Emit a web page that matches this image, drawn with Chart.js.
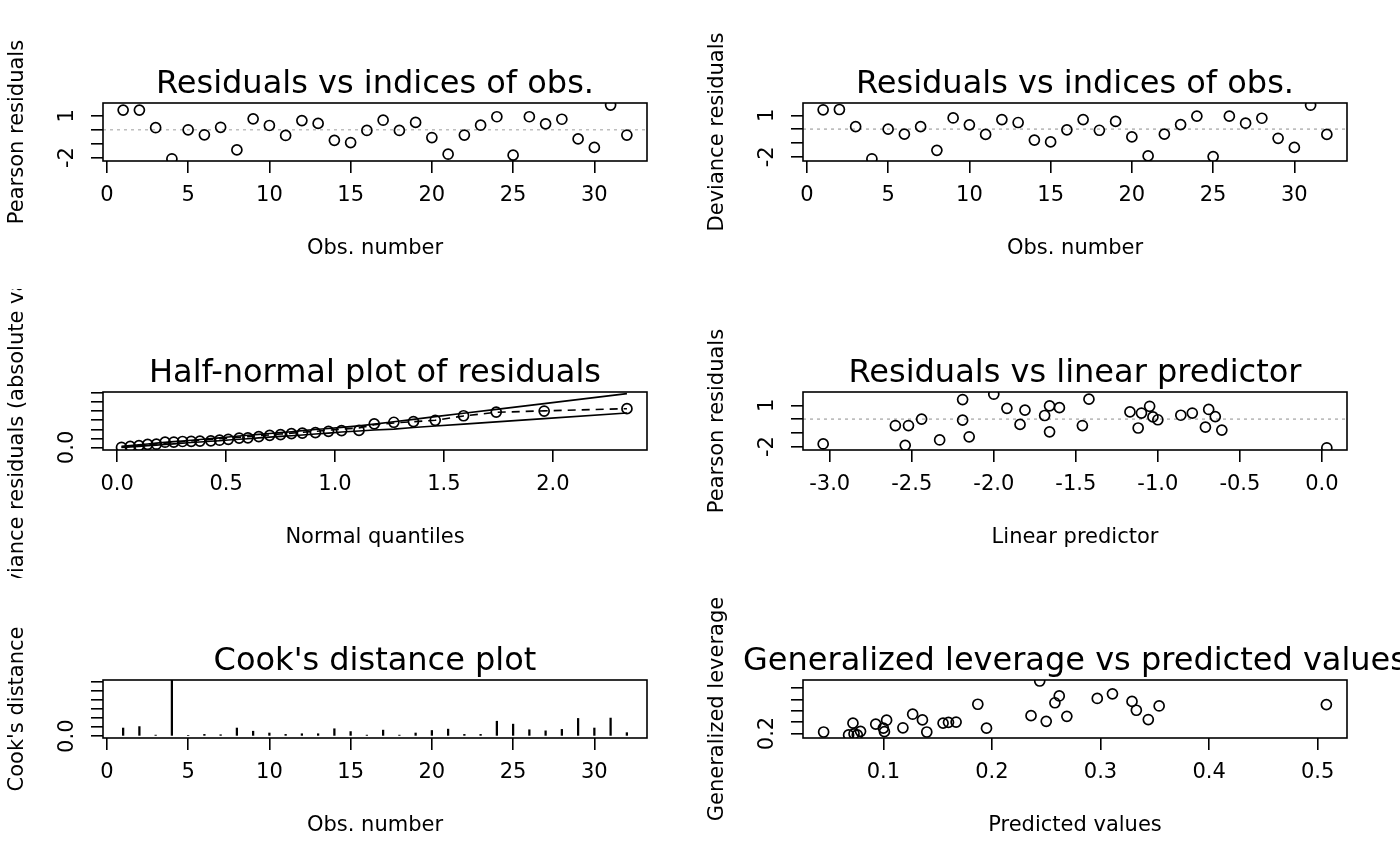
<!DOCTYPE html>
<html>
<head>
<meta charset="utf-8">
<title>GLM diagnostic plots</title>
<script src="https://cdn.jsdelivr.net/npm/chart.js@4.4.0/dist/chart.umd.min.js"></script>
<style>
  html, body { margin: 0; padding: 0; background: #fff; }
  #page { position: relative; width: 1400px; height: 866px; overflow: hidden; }
  .cell { position: absolute; width: 700px; height: 289px; }
</style>
</head>
<body>
<div id="page">
  <div class="cell" style="left:0;top:0"><canvas id="p1" width="700" height="289"></canvas></div>
  <div class="cell" style="left:700px;top:0"><canvas id="p2" width="700" height="289"></canvas></div>
  <div class="cell" style="left:0;top:289px"><canvas id="p3" width="700" height="289"></canvas></div>
  <div class="cell" style="left:700px;top:289px"><canvas id="p4" width="700" height="289"></canvas></div>
  <div class="cell" style="left:0;top:577px"><canvas id="p5" width="700" height="289"></canvas></div>
  <div class="cell" style="left:700px;top:577px"><canvas id="p6" width="700" height="289"></canvas></div>
</div>
<script>
// Values

const obsIndex = [1, 2, 3, 4, 5, 6, 7, 8, 9, 10, 11, 12, 13, 14, 15, 16,
                  17, 18, 19, 20, 21, 22, 23, 24, 25, 26, 27, 28, 29, 30, 31, 32];

const pearsonResid = [1.42, 1.42, 0.15, -2.09, 0.00, -0.36, 0.18, -1.45, 0.79, 0.31, -0.41, 0.66, 0.46, -0.76, -0.92, -0.05,
                      0.69, -0.05, 0.53, -0.56, -1.76, -0.38, 0.33, 0.94, -1.83, 0.94, 0.43, 0.76, -0.66, -1.27, 1.78, -0.38];

const devianceResid = [1.40, 1.42, 0.18, -2.14, 0.00, -0.36, 0.18, -1.53, 0.81, 0.31, -0.38, 0.69, 0.48, -0.79, -0.92, -0.05,
                       0.69, -0.08, 0.56, -0.56, -1.93, -0.36, 0.33, 0.94, -1.98, 0.94, 0.43, 0.79, -0.66, -1.32, 1.73, -0.38];

// half-normal plot
const hnQuantiles = [0.02, 0.06, 0.10, 0.14, 0.18, 0.22, 0.26, 0.30, 0.34, 0.38, 0.43, 0.47, 0.51, 0.56, 0.60, 0.65,
                     0.70, 0.75, 0.80, 0.85, 0.91, 0.97, 1.03, 1.11, 1.18, 1.27, 1.36, 1.46, 1.59, 1.74, 1.96, 2.34];
const hnAbsDeviance = [0.01, 0.06, 0.10, 0.17, 0.18, 0.29, 0.30, 0.33, 0.34, 0.35, 0.36, 0.40, 0.45, 0.52, 0.53, 0.60,
                       0.67, 0.71, 0.76, 0.79, 0.82, 0.89, 0.93, 0.94, 1.30, 1.39, 1.43, 1.50, 1.75, 1.95, 2.01, 2.14];
const hnEnvLower = [0.00, 0.03, 0.06, 0.10, 0.13, 0.16, 0.20, 0.23, 0.27, 0.30, 0.34, 0.37, 0.41, 0.45, 0.48, 0.53,
                    0.57, 0.61, 0.65, 0.69, 0.74, 0.79, 0.85, 0.91, 0.96, 1.01, 1.10, 1.18, 1.29, 1.41, 1.59, 1.90];
const hnEnvMean = [0.02, 0.06, 0.10, 0.15, 0.19, 0.24, 0.28, 0.32, 0.36, 0.40, 0.44, 0.48, 0.52, 0.56, 0.60, 0.65,
                   0.69, 0.74, 0.79, 0.84, 0.89, 0.95, 1.01, 1.08, 1.25, 1.35, 1.42, 1.50, 1.74, 1.94, 2.02, 2.14];
const hnEnvUpper = [0.07, 0.11, 0.15, 0.19, 0.24, 0.28, 0.32, 0.36, 0.40, 0.44, 0.49, 0.53, 0.58, 0.63, 0.67, 0.72,
                    0.77, 0.82, 0.87, 0.93, 0.99, 1.05, 1.11, 1.19, 1.29, 1.42, 1.55, 1.70, 1.89, 2.10, 2.42, 2.97];

// residuals vs linear predictor
const linPredictor = [-3.04, -2.60, -2.52, -2.44, -2.54, -2.33, -2.19, -2.19, -2.15, -2.00, -1.92, -1.81, -1.84, -1.69, -1.66, -1.60,
                      -1.66, -1.46, -1.42, -1.17, -1.10, -1.05, -1.03, -1.00, -1.12, -0.86, -0.79, -0.69, -0.65, -0.71, -0.61, 0.03];
const lpPearson = [-1.81, -0.47, -0.47, 0.00, -1.91, -1.52, 1.42, -0.08, -1.29, 1.81, 0.78, 0.65, -0.39, 0.26, 0.96, 0.83,
                   -0.93, -0.47, 1.45, 0.52, 0.44, 0.93, 0.16, -0.05, -0.65, 0.28, 0.44, 0.70, 0.18, -0.59, -0.80, -2.09];

// Cook's distance (obs. 4 runs past the top of the plot)
const cooksDistance = [0.090, 0.106, 0.012, 0.650, 0.008, 0.020, 0.016, 0.090, 0.055, 0.035, 0.020, 0.027, 0.027, 0.082, 0.051, 0.012,
                       0.067, 0.012, 0.035, 0.063, 0.078, 0.020, 0.020, 0.165, 0.133, 0.071, 0.059, 0.075, 0.196, 0.090, 0.200, 0.039];

// generalized leverage vs predicted values
const predictedValues = [0.045, 0.068, 0.073, 0.072, 0.079, 0.093, 0.100, 0.101, 0.103, 0.118, 0.127, 0.136, 0.140, 0.155, 0.160, 0.167,
                         0.187, 0.195, 0.236, 0.244, 0.250, 0.258, 0.262, 0.269, 0.297, 0.311, 0.329, 0.333, 0.344, 0.354, 0.508, 0.076];
const genLeverage = [0.213, 0.187, 0.197, 0.291, 0.219, 0.282, 0.247, 0.216, 0.317, 0.250, 0.370, 0.320, 0.213, 0.291, 0.298, 0.301,
                     0.458, 0.247, 0.357, 0.663, 0.307, 0.471, 0.531, 0.351, 0.509, 0.550, 0.483, 0.405, 0.323, 0.443, 0.455, 0.188];

// tick positions and labels (R drops the labels that would overlap)
const obsTicks = [0, 5, 10, 15, 20, 25, 30];
const obsTickLabels = ['0', '5', '10', '15', '20', '25', '30'];
const residTicks = [-2, -1, 0, 1];
const residTickLabels = ['-2', '', '', '1'];
const hnXTicks = [0, 0.5, 1, 1.5, 2];
const hnXTickLabels = ['0.0', '0.5', '1.0', '1.5', '2.0'];
const hnYTicks = [0, 0.5, 1, 1.5, 2, 2.5, 3];
const hnYTickLabels = ['0.0', '', '', '', '', '', ''];
const lpTicks = [-3, -2.5, -2, -1.5, -1, -0.5, 0];
const lpTickLabels = ['-3.0', '-2.5', '-2.0', '-1.5', '-1.0', '-0.5', '0.0'];
const cookTicks = [0, 0.1, 0.2, 0.3, 0.4, 0.5, 0.6];
const cookTickLabels = ['0.0', '', '', '', '', '', ''];
const predTicks = [0.1, 0.2, 0.3, 0.4, 0.5];
const predTickLabels = ['0.1', '0.2', '0.3', '0.4', '0.5'];
const levTicks = [0.2, 0.3, 0.4, 0.5, 0.6];
const levTickLabels = ['0.2', '', '', '', ''];

// ---------------------------------------------------------------

const FONT = "'DejaVu Sans', 'Liberation Sans', sans-serif";
const LW = 1.6;   // R's lwd = 1 at this resolution
Chart.defaults.font.family = FONT;
Chart.defaults.color = '#000';

// box, main title, axis titles and rotated y tick labels, the way R puts them
const rPanel = {
    id: 'rPanel',
    afterDraw(chart, args, opts) {
        const { ctx, chartArea: a } = chart;
        const ys = chart.scales.y;
        const midX = (a.left + a.right) / 2;
        ctx.save();
        ctx.strokeStyle = '#000';
        ctx.lineWidth = LW;
        ctx.strokeRect(a.left, a.top, a.right - a.left, a.bottom - a.top);

        ctx.fillStyle = '#000';
        ctx.textAlign = 'center';
        ctx.textBaseline = 'alphabetic';
        ctx.font = `32px ${FONT}`;
        ctx.fillText(opts.title, midX, a.top - 10);

        ctx.font = `21px ${FONT}`;
        ctx.textBaseline = 'middle';
        ctx.fillText(opts.xTitle, midX, a.bottom + 88);

        ctx.save();
        ctx.translate(a.left - 85, (a.top + a.bottom) / 2);
        ctx.rotate(-Math.PI / 2);
        ctx.fillText(opts.yTitle, 0, 0);
        ctx.restore();

        ys.ticks.forEach((t, i) => {
            const lab = opts.yLabels[i];
            if (!lab) return;
            ctx.save();
            ctx.translate(a.left - 35, ys.getPixelForValue(t.value));
            ctx.rotate(-Math.PI / 2);
            ctx.fillText(lab, 0, 0);
            ctx.restore();
        });
        ctx.restore();
    }
};

function axis(range, ticks, labels, isX) {
    return {
        type: 'linear',
        min: range[0],
        max: range[1],
        offset: false,
        afterBuildTicks: s => { s.ticks = ticks.map(v => ({ value: v })); },
        afterFit: s => { if (isX) s.height = 128; else s.width = 103; },
        grid: { offset: false, drawOnChartArea: false, drawTicks: true, tickLength: 12, color: '#000', lineWidth: LW },
        border: { display: false },
        ticks: isX
            ? { display: true, padding: 10, autoSkip: false, maxRotation: 0, minRotation: 0,
                font: { size: 21 }, color: '#000', callback: (v, i) => labels[i] }
            : { display: false }
    };
}

function pointSet(xs, ys) {
    return {
        type: 'scatter',
        data: xs.map((x, i) => ({ x: x, y: ys[i] })),
        showLine: false,
        pointRadius: 5,
        pointBorderWidth: 1.7,
        borderColor: '#000',
        backgroundColor: 'rgba(0,0,0,0)',
        clip: 0
    };
}

function lineSet(xs, ys, dash, color) {
    return {
        type: 'scatter',
        data: xs.map((x, i) => ({ x: x, y: ys[i] })),
        showLine: true,
        pointRadius: 0,
        borderWidth: LW,
        borderColor: color || '#000',
        borderDash: dash || [],
        clip: 0
    };
}

function makePanel(id, type, datasets, xAxis, yAxis, texts) {
    return new Chart(document.getElementById(id), {
        type: type,
        data: { datasets: datasets },
        options: {
            responsive: false,
            animation: false,
            devicePixelRatio: 1,
            events: [],
            layout: { padding: { top: 103, right: 53, left: 0, bottom: 0 } },
            scales: { x: xAxis, y: yAxis },
            plugins: { legend: { display: false }, tooltip: { enabled: false }, rPanel: texts }
        },
        plugins: [rPanel]
    });
}

const obsRange = [-0.24, 33.24];

// 1. Pearson residuals vs index
makePanel('p1', 'scatter', [
    pointSet(obsIndex, pearsonResid),
    lineSet(obsRange, [0, 0], [3, 4], '#bebebe')
], axis(obsRange, obsTicks, obsTickLabels, true),
   axis([-2.25, 1.93], residTicks, residTickLabels, false),
   { title: 'Residuals vs indices of obs.', xTitle: 'Obs. number', yTitle: 'Pearson residuals', yLabels: residTickLabels });

// 2. Deviance residuals vs index
makePanel('p2', 'scatter', [
    pointSet(obsIndex, devianceResid),
    lineSet(obsRange, [0, 0], [3, 4], '#bebebe')
], axis(obsRange, obsTicks, obsTickLabels, true),
   axis([-2.30, 1.89], residTicks, residTickLabels, false),
   { title: 'Residuals vs indices of obs.', xTitle: 'Obs. number', yTitle: 'Deviance residuals', yLabels: residTickLabels });

// 3. Half-normal plot with simulated envelope
makePanel('p3', 'scatter', [
    pointSet(hnQuantiles, hnAbsDeviance),
    lineSet(hnQuantiles, hnEnvMean, [8, 6]),
    lineSet(hnQuantiles, hnEnvLower),
    lineSet(hnQuantiles, hnEnvUpper)
], axis([-0.065, 2.432], hnXTicks, hnXTickLabels, true),
   axis([-0.14, 3.06], hnYTicks, hnYTickLabels, false),
   { title: 'Half-normal plot of residuals', xTitle: 'Normal quantiles',
     yTitle: 'Deviance residuals (absolute values)', yLabels: hnYTickLabels });

// 4. Pearson residuals vs linear predictor
const lpRange = [-3.163, 0.153];
makePanel('p4', 'scatter', [
    pointSet(linPredictor, lpPearson),
    lineSet(lpRange, [0, 0], [3, 4], '#bebebe')
], axis(lpRange, lpTicks, lpTickLabels, true),
   axis([-2.25, 1.97], residTicks, residTickLabels, false),
   { title: 'Residuals vs linear predictor', xTitle: 'Linear predictor', yTitle: 'Pearson residuals', yLabels: residTickLabels });

// 5. Cook's distance spikes
makePanel('p5', 'bar', [{
    data: obsIndex.map((x, i) => ({ x: x, y: cooksDistance[i] })),
    backgroundColor: '#000',
    borderWidth: 0,
    barThickness: 1.6,
    grouped: false,
    clip: 0
}], axis(obsRange, obsTicks, obsTickLabels, true),
   axis([-0.02, 0.62], cookTicks, cookTickLabels, false),
   { title: "Cook's distance plot", xTitle: 'Obs. number', yTitle: "Cook's distance", yLabels: cookTickLabels });

// 6. Generalized leverage vs predicted values
makePanel('p6', 'scatter', [
    pointSet(predictedValues, genLeverage)
], axis([0.026, 0.527], predTicks, predTickLabels, true),
   axis([0.16, 0.672], levTicks, levTickLabels, false),
   { title: 'Generalized leverage vs predicted values', xTitle: 'Predicted values',
     yTitle: 'Generalized leverage', yLabels: levTickLabels });
</script>
</body>
</html>
